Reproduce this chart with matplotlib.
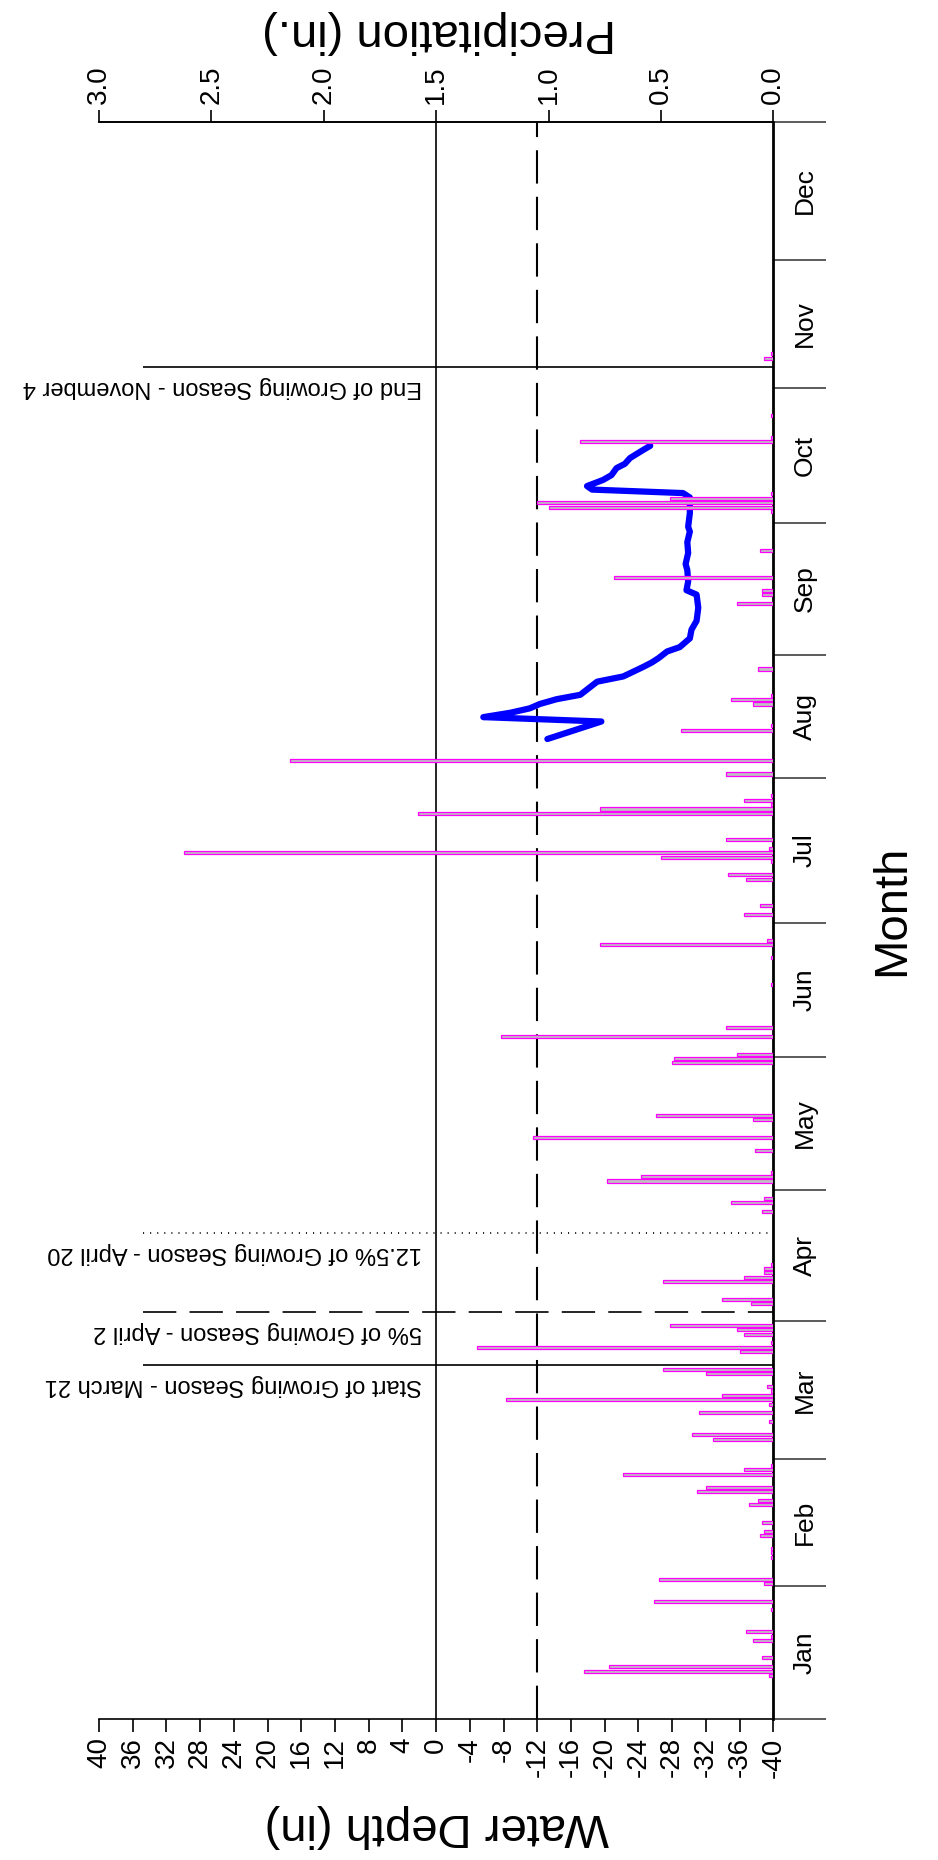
import matplotlib
matplotlib.use("Agg")
import matplotlib.pyplot as plt
import numpy as np

plt.rcParams['font.family'] = ['Liberation Sans', 'DejaVu Sans']
plt.rcParams['lines.scale_dashes'] = False

# daily precipitation (day of year, inches)
precip_days = [10, 11, 12, 14, 18, 19, 20, 25, 27, 31, 32, 37, 38, 39, 42, 43, 45,
               49, 50, 52, 53, 56, 57, 58, 64, 65, 68, 70, 72, 73, 74, 75, 76, 79,
               80, 84, 85, 86, 88, 89, 90, 95, 96, 100, 101, 102, 103, 104, 116,
               118, 119, 123, 124, 125, 130, 133, 137, 138, 150, 151, 152, 156,
               158, 168, 174, 177, 178, 184, 186, 192, 193, 196, 197, 198, 199,
               201, 207, 208, 209, 210, 211, 216, 219, 226, 227, 232, 233, 234,
               240, 255, 257, 258, 261, 267, 276, 277, 278, 279, 280, 292, 293,
               298, 311, 312]
precip_vals = [0.02, 0.84, 0.73, 0.05, 0.09, 0.01, 0.12, 0.01, 0.53, 0.04, 0.51,
               0.01, 0.01, 0.01, 0.06, 0.04, 0.05, 0.11, 0.07, 0.34, 0.30, 0.67,
               0.13, 0.01, 0.27, 0.36, 0.02, 0.33, 0.02, 1.19, 0.23, 0.01, 0.03,
               0.30, 0.49, 0.15, 1.32, 0.01, 0.13, 0.16, 0.46, 0.10, 0.23, 0.49,
               0.13, 0.04, 0.04, 0.01, 0.05, 0.19, 0.04, 0.74, 0.59, 0.01, 0.08,
               1.07, 0.09, 0.52, 0.45, 0.44, 0.16, 1.21, 0.21, 0.01, 0.01, 0.77,
               0.03, 0.13, 0.06, 0.12, 0.20, 0.01, 0.50, 2.62, 0.02, 0.21, 1.58,
               0.77, 0.01, 0.13, 0.01, 0.21, 2.15, 0.41, 0.01, 0.09, 0.19, 0.01,
               0.07, 0.16, 0.05, 0.05, 0.71, 0.06, 0.01, 1.00, 1.05, 0.46, 0.01,
               0.86, 0.01, 0.01, 0.04, 0.01]

# water depth well record (day of year, inches)
depth_days = [224, 228, 229, 230, 231, 232, 233.1, 234.1, 237.1, 238.3, 240.5,
              241.5, 242.5, 244, 245, 247, 249, 251, 254, 257, 258, 260, 262.6,
              264, 266.5, 269, 271.4, 272.5, 275.6, 279.2, 280.2, 281, 281.8,
              283.2, 284.3, 285.9, 286.9, 288.2, 290.1, 291]
depth_vals = [-13.2, -19.6, -5.6, -8.8, -11.1, -12.3, -14.3, -17.1, -19.1, -22.2,
              -24.6, -25.6, -26.4, -27.4, -28.9, -30.1, -30.3, -30.9, -31.1, -30.9,
              -29.7, -29.9, -29.8, -29.6, -29.9, -29.8, -30.1, -29.9, -30.1, -30.1,
              -29.3, -18.5, -17.9, -19.8, -20.8, -21.4, -22.4, -23.0, -24.6, -25.4]

months = ['Jan', 'Feb', 'Mar', 'Apr', 'May', 'Jun', 'Jul', 'Aug', 'Sep', 'Oct', 'Nov', 'Dec']
month_edges = [0, 30.5, 59.5, 91, 121, 151.4, 181.9, 215.2, 243.2, 273.4, 304.2, 333.5, 365]

season_days = [81, 93, 111, 309]
season_labels = ['Start of Growing Season - March 21', '5% of Growing Season - April 2',
                 '12.5% of Growing Season - April 20', 'End of Growing Season - November 4']
season_styles = ['-', (0, (24, 9.5)), (0, (0.8, 4.3)), '-']

fig = plt.figure(figsize=(9.38, 18.6), dpi=100)
ax = fig.add_axes([0.1055, 0.0757, 0.7189, 0.8587])
ax.set_xlim(40, -40)
ax.set_ylim(0, 365)

# reference lines: ground surface and 12 in. threshold
ax.axvline(0, color='black', lw=1.2)
ax.axvline(-12, color='black', lw=1.5, linestyle=(0, (24, 9.5)))

for d, lab, ls in zip(season_days, season_labels, season_styles):
    ax.hlines(d, 34.8, -40, colors='black', lw=1.2, linestyles=[ls])
    ax.text(1.7, d - 2.0, lab, rotation=180, ha='right', va='top', fontsize=17)

ax.plot(depth_vals, depth_days, color='#0000FF', lw=4.5,
        solid_capstyle='round', solid_joinstyle='round', zorder=3)

ax.set_xticks(np.arange(40, -41, -4))
ax.set_xticklabels([str(v) for v in np.arange(40, -41, -4)], rotation=90, fontsize=20)
ax.tick_params(axis='x', direction='out', length=9, width=1.2, pad=4)

ax.set_yticks(month_edges)
ax.set_yticklabels([])
ax.tick_params(axis='y', left=False, right=True, labelleft=False, labelright=False,
               direction='out', length=38, width=1.2, color='#404040')
for i, m in enumerate(months):
    ax.text(1.047, (month_edges[i] + month_edges[i + 1]) / 2, m,
            transform=ax.get_yaxis_transform(), rotation=90,
            ha='center', va='center', fontsize=19)

ax.spines['left'].set_visible(False)
ax.spines['right'].set_linewidth(2)
ax.spines['top'].set_linewidth(1.2)
ax.spines['bottom'].set_linewidth(1.2)

# precipitation on the twin axis, hanging from the right edge
ax2 = ax.twiny()
ax2.set_xlim(3.0, 0)
ax2.barh(precip_days, precip_vals, height=0.7, left=0, color='#C0C0C0',
         edgecolor='#FF00FF', linewidth=0.9)
ax2.set_xticks(np.arange(0, 3.01, 0.5))
ax2.set_xticklabels(['%.1f' % v for v in np.arange(0, 3.01, 0.5)], rotation=90, fontsize=20)
ax2.tick_params(axis='x', direction='out', length=9, width=1.2, pad=4)
for s in ['left', 'right', 'bottom']:
    ax2.spines[s].set_visible(False)
ax2.spines['top'].set_linewidth(1.2)

fig.text(437 / 938, 1 - 1826 / 1860, 'Water Depth (in)', rotation=180,
         ha='center', va='center', fontsize=34)
fig.text(439 / 938, 1 - 32 / 1860, 'Precipitation (in.)', rotation=180,
         ha='center', va='center', fontsize=34)
fig.text(892 / 938, 1 - 910 / 1860, 'Month', rotation=90,
         ha='center', va='center', fontsize=34)

fig.savefig('out.png', dpi=100)
